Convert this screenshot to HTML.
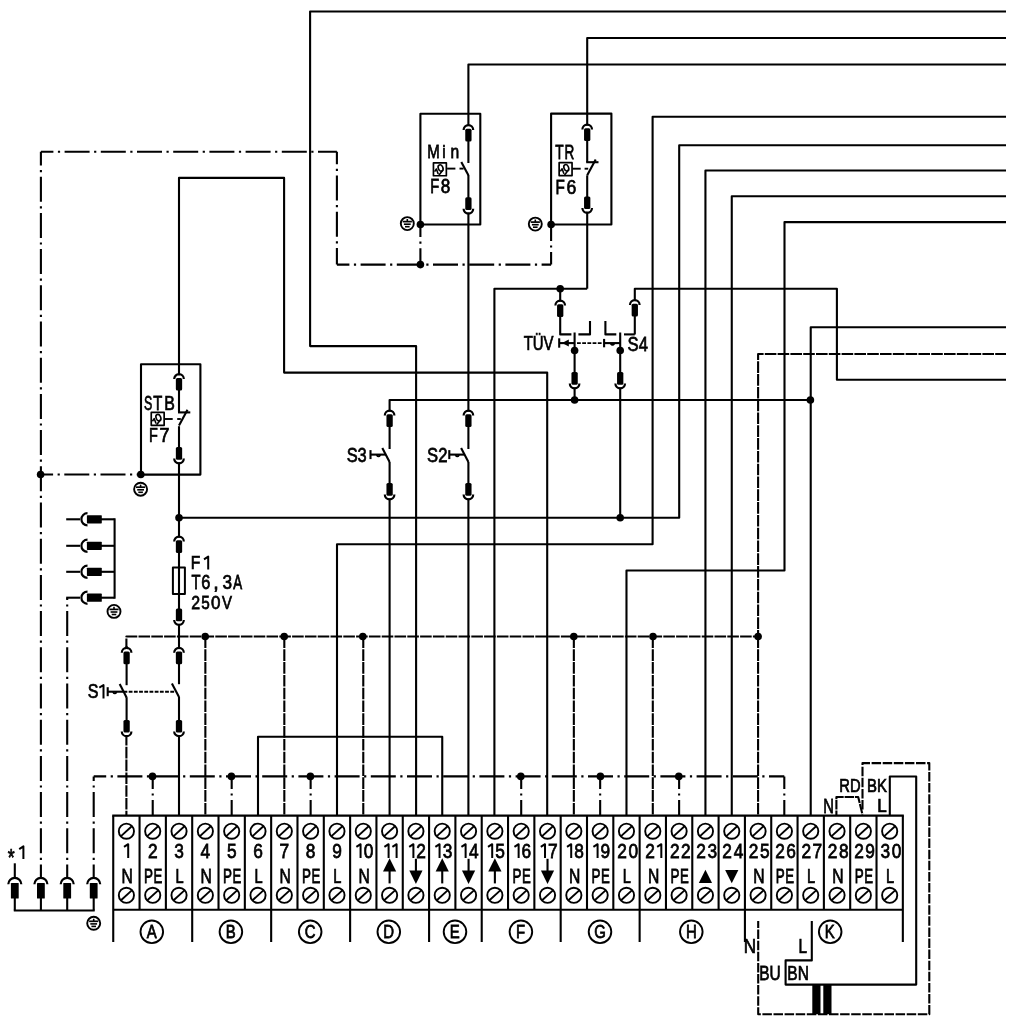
<!DOCTYPE html>
<html><head><meta charset="utf-8"><style>
html,body{margin:0;padding:0;background:#fff;width:1012px;height:1021px;overflow:hidden}
svg{display:block;will-change:transform}
path,circle,rect,ellipse{fill:none;stroke:#000;stroke-linejoin:round}
.f{fill:#000;stroke:none}
.w{fill:#fff;stroke:none}
text{fill:#000;stroke:#000;stroke-width:0.75px;font-family:"Liberation Sans",sans-serif}
</style></head><body>
<svg width="1012" height="1021" viewBox="0 0 1012 1021">
<path d="M112.24 815.6 L903.84 815.6" stroke-width="2.1"/>
<path d="M113.24 909.8 L902.84 909.8" stroke-width="2.1"/>
<path d="M113.24 815.6 L113.24 942" stroke-width="2.1"/>
<path d="M902.84 815.6 L902.84 942" stroke-width="2.1"/>
<path d="M139.56 815.6 L139.56 909.8" stroke-width="2.1"/>
<path d="M165.88 815.6 L165.88 909.8" stroke-width="2.1"/>
<path d="M192.2 815.6 L192.2 942" stroke-width="2.1"/>
<path d="M218.52 815.6 L218.52 909.8" stroke-width="2.1"/>
<path d="M244.84 815.6 L244.84 909.8" stroke-width="2.1"/>
<path d="M271.16 815.6 L271.16 942" stroke-width="2.1"/>
<path d="M297.48 815.6 L297.48 909.8" stroke-width="2.1"/>
<path d="M323.8 815.6 L323.8 909.8" stroke-width="2.1"/>
<path d="M350.12 815.6 L350.12 942" stroke-width="2.1"/>
<path d="M376.44 815.6 L376.44 909.8" stroke-width="2.1"/>
<path d="M402.76 815.6 L402.76 909.8" stroke-width="2.1"/>
<path d="M429.08 815.6 L429.08 942" stroke-width="2.1"/>
<path d="M455.4 815.6 L455.4 909.8" stroke-width="2.1"/>
<path d="M481.72 815.6 L481.72 942" stroke-width="2.1"/>
<path d="M508.04 815.6 L508.04 909.8" stroke-width="2.1"/>
<path d="M534.36 815.6 L534.36 909.8" stroke-width="2.1"/>
<path d="M560.68 815.6 L560.68 942" stroke-width="2.1"/>
<path d="M587 815.6 L587 909.8" stroke-width="2.1"/>
<path d="M613.32 815.6 L613.32 909.8" stroke-width="2.1"/>
<path d="M639.64 815.6 L639.64 942" stroke-width="2.1"/>
<path d="M665.96 815.6 L665.96 909.8" stroke-width="2.1"/>
<path d="M692.28 815.6 L692.28 909.8" stroke-width="2.1"/>
<path d="M718.6 815.6 L718.6 909.8" stroke-width="2.1"/>
<path d="M744.92 815.6 L744.92 942" stroke-width="2.1"/>
<path d="M771.24 815.6 L771.24 909.8" stroke-width="2.1"/>
<path d="M797.56 815.6 L797.56 909.8" stroke-width="2.1"/>
<path d="M823.88 815.6 L823.88 909.8" stroke-width="2.1"/>
<path d="M850.2 815.6 L850.2 909.8" stroke-width="2.1"/>
<path d="M876.52 815.6 L876.52 909.8" stroke-width="2.1"/>
<circle cx="126.4" cy="831.2" r="7.6" stroke-width="1.9"/>
<path d="M121 836.1 L131.8 826.3" stroke-width="1.9"/>
<circle cx="126.4" cy="895.3" r="7.6" stroke-width="1.9"/>
<path d="M121 900.2 L131.8 890.4" stroke-width="1.9"/>
<path d="M124 846.9 L128.2 844.2 L128.2 857.9" stroke-width="2" stroke-linejoin="round"/>
<text transform="translate(121.54 882.62) scale(0.8073 1)" style="font-size:19.4px">N</text>
<circle cx="152.72" cy="831.2" r="7.6" stroke-width="1.9"/>
<path d="M147.32 836.1 L158.12 826.3" stroke-width="1.9"/>
<circle cx="152.72" cy="895.3" r="7.6" stroke-width="1.9"/>
<path d="M147.32 900.2 L158.12 890.4" stroke-width="1.9"/>
<text transform="translate(147.91 857.52) scale(0.8600 1)" style="font-size:20.13px">2</text>
<text transform="translate(144.09 882.62) scale(0.6923 1)" style="font-size:19.4px">P</text>
<text transform="translate(153.61 882.62) scale(0.6798 1)" style="font-size:19.4px">E</text>
<circle cx="179.04" cy="831.2" r="7.6" stroke-width="1.9"/>
<path d="M173.64 836.1 L184.44 826.3" stroke-width="1.9"/>
<circle cx="179.04" cy="895.3" r="7.6" stroke-width="1.9"/>
<path d="M173.64 900.2 L184.44 890.4" stroke-width="1.9"/>
<text transform="translate(174.28 857.52) scale(0.8600 1)" style="font-size:20.13px">3</text>
<text transform="translate(175.42 882.62) scale(0.7539 1)" style="font-size:19.4px">L</text>
<circle cx="205.36" cy="831.2" r="7.6" stroke-width="1.9"/>
<path d="M199.96 836.1 L210.76 826.3" stroke-width="1.9"/>
<circle cx="205.36" cy="895.3" r="7.6" stroke-width="1.9"/>
<path d="M199.96 900.2 L210.76 890.4" stroke-width="1.9"/>
<text transform="translate(200.6 857.52) scale(0.8600 1)" style="font-size:20.13px">4</text>
<text transform="translate(200.5 882.62) scale(0.8073 1)" style="font-size:19.4px">N</text>
<circle cx="231.68" cy="831.2" r="7.6" stroke-width="1.9"/>
<path d="M226.28 836.1 L237.08 826.3" stroke-width="1.9"/>
<circle cx="231.68" cy="895.3" r="7.6" stroke-width="1.9"/>
<path d="M226.28 900.2 L237.08 890.4" stroke-width="1.9"/>
<text transform="translate(226.88 857.52) scale(0.8600 1)" style="font-size:20.13px">5</text>
<text transform="translate(223.05 882.62) scale(0.6923 1)" style="font-size:19.4px">P</text>
<text transform="translate(232.57 882.62) scale(0.6798 1)" style="font-size:19.4px">E</text>
<circle cx="258" cy="831.2" r="7.6" stroke-width="1.9"/>
<path d="M252.6 836.1 L263.4 826.3" stroke-width="1.9"/>
<circle cx="258" cy="895.3" r="7.6" stroke-width="1.9"/>
<path d="M252.6 900.2 L263.4 890.4" stroke-width="1.9"/>
<text transform="translate(253.13 857.52) scale(0.8600 1)" style="font-size:20.13px">6</text>
<text transform="translate(254.38 882.62) scale(0.7539 1)" style="font-size:19.4px">L</text>
<circle cx="284.32" cy="831.2" r="7.6" stroke-width="1.9"/>
<path d="M278.92 836.1 L289.72 826.3" stroke-width="1.9"/>
<circle cx="284.32" cy="895.3" r="7.6" stroke-width="1.9"/>
<path d="M278.92 900.2 L289.72 890.4" stroke-width="1.9"/>
<text transform="translate(279.5 857.52) scale(0.8600 1)" style="font-size:20.13px">7</text>
<text transform="translate(279.46 882.62) scale(0.8073 1)" style="font-size:19.4px">N</text>
<circle cx="310.64" cy="831.2" r="7.6" stroke-width="1.9"/>
<path d="M305.24 836.1 L316.04 826.3" stroke-width="1.9"/>
<circle cx="310.64" cy="895.3" r="7.6" stroke-width="1.9"/>
<path d="M305.24 900.2 L316.04 890.4" stroke-width="1.9"/>
<text transform="translate(305.83 857.52) scale(0.8600 1)" style="font-size:20.13px">8</text>
<text transform="translate(302.01 882.62) scale(0.6923 1)" style="font-size:19.4px">P</text>
<text transform="translate(311.53 882.62) scale(0.6798 1)" style="font-size:19.4px">E</text>
<circle cx="336.96" cy="831.2" r="7.6" stroke-width="1.9"/>
<path d="M331.56 836.1 L342.36 826.3" stroke-width="1.9"/>
<circle cx="336.96" cy="895.3" r="7.6" stroke-width="1.9"/>
<path d="M331.56 900.2 L342.36 890.4" stroke-width="1.9"/>
<text transform="translate(332.15 857.52) scale(0.8600 1)" style="font-size:20.13px">9</text>
<text transform="translate(333.34 882.62) scale(0.7539 1)" style="font-size:19.4px">L</text>
<circle cx="363.28" cy="831.2" r="7.6" stroke-width="1.9"/>
<path d="M357.88 836.1 L368.68 826.3" stroke-width="1.9"/>
<circle cx="363.28" cy="895.3" r="7.6" stroke-width="1.9"/>
<path d="M357.88 900.2 L368.68 890.4" stroke-width="1.9"/>
<path d="M356.37 846.9 L360.57 844.2 L360.57 857.9" stroke-width="2" stroke-linejoin="round"/>
<text transform="translate(363.67 857.52) scale(0.8600 1)" style="font-size:20.13px">0</text>
<text transform="translate(358.42 882.62) scale(0.8073 1)" style="font-size:19.4px">N</text>
<circle cx="389.6" cy="831.2" r="7.6" stroke-width="1.9"/>
<path d="M384.2 836.1 L395 826.3" stroke-width="1.9"/>
<circle cx="389.6" cy="895.3" r="7.6" stroke-width="1.9"/>
<path d="M384.2 900.2 L395 890.4" stroke-width="1.9"/>
<path d="M384.4 846.9 L388.6 844.2 L388.6 857.9" stroke-width="2" stroke-linejoin="round"/>
<path d="M392.4 846.9 L396.6 844.2 L396.6 857.9" stroke-width="2" stroke-linejoin="round"/>
<path d="M389.6 858.3 L383 871.6 L396.2 871.6 Z" class="f"/>
<path d="M389.6 871 L389.6 883.4" stroke-width="2.1"/>
<circle cx="415.92" cy="831.2" r="7.6" stroke-width="1.9"/>
<path d="M410.52 836.1 L421.32 826.3" stroke-width="1.9"/>
<circle cx="415.92" cy="895.3" r="7.6" stroke-width="1.9"/>
<path d="M410.52 900.2 L421.32 890.4" stroke-width="1.9"/>
<path d="M409.2 846.9 L413.4 844.2 L413.4 857.9" stroke-width="2" stroke-linejoin="round"/>
<text transform="translate(416.31 857.52) scale(0.8600 1)" style="font-size:20.13px">2</text>
<path d="M415.92 884 L409.32 870.4 L422.52 870.4 Z" class="f"/>
<path d="M415.92 858.8 L415.92 871" stroke-width="2.1"/>
<circle cx="442.24" cy="831.2" r="7.6" stroke-width="1.9"/>
<path d="M436.84 836.1 L447.64 826.3" stroke-width="1.9"/>
<circle cx="442.24" cy="895.3" r="7.6" stroke-width="1.9"/>
<path d="M436.84 900.2 L447.64 890.4" stroke-width="1.9"/>
<path d="M435.36 846.9 L439.56 844.2 L439.56 857.9" stroke-width="2" stroke-linejoin="round"/>
<text transform="translate(442.68 857.52) scale(0.8600 1)" style="font-size:20.13px">3</text>
<path d="M442.24 858.3 L435.64 871.6 L448.84 871.6 Z" class="f"/>
<path d="M442.24 871 L442.24 883.4" stroke-width="2.1"/>
<circle cx="468.56" cy="831.2" r="7.6" stroke-width="1.9"/>
<path d="M463.16 836.1 L473.96 826.3" stroke-width="1.9"/>
<circle cx="468.56" cy="895.3" r="7.6" stroke-width="1.9"/>
<path d="M463.16 900.2 L473.96 890.4" stroke-width="1.9"/>
<path d="M461.42 846.9 L465.62 844.2 L465.62 857.9" stroke-width="2" stroke-linejoin="round"/>
<text transform="translate(469 857.52) scale(0.8600 1)" style="font-size:20.13px">4</text>
<path d="M468.56 884 L461.96 870.4 L475.16 870.4 Z" class="f"/>
<path d="M468.56 858.8 L468.56 871" stroke-width="2.1"/>
<circle cx="494.88" cy="831.2" r="7.6" stroke-width="1.9"/>
<path d="M489.48 836.1 L500.28 826.3" stroke-width="1.9"/>
<circle cx="494.88" cy="895.3" r="7.6" stroke-width="1.9"/>
<path d="M489.48 900.2 L500.28 890.4" stroke-width="1.9"/>
<path d="M488 846.9 L492.2 844.2 L492.2 857.9" stroke-width="2" stroke-linejoin="round"/>
<text transform="translate(495.28 857.52) scale(0.8600 1)" style="font-size:20.13px">5</text>
<path d="M494.88 858.3 L488.28 871.6 L501.48 871.6 Z" class="f"/>
<path d="M494.88 871 L494.88 883.4" stroke-width="2.1"/>
<circle cx="521.2" cy="831.2" r="7.6" stroke-width="1.9"/>
<path d="M515.8 836.1 L526.6 826.3" stroke-width="1.9"/>
<circle cx="521.2" cy="895.3" r="7.6" stroke-width="1.9"/>
<path d="M515.8 900.2 L526.6 890.4" stroke-width="1.9"/>
<path d="M514.43 846.9 L518.63 844.2 L518.63 857.9" stroke-width="2" stroke-linejoin="round"/>
<text transform="translate(521.53 857.52) scale(0.8600 1)" style="font-size:20.13px">6</text>
<text transform="translate(512.57 882.62) scale(0.6923 1)" style="font-size:19.4px">P</text>
<text transform="translate(522.09 882.62) scale(0.6798 1)" style="font-size:19.4px">E</text>
<circle cx="547.52" cy="831.2" r="7.6" stroke-width="1.9"/>
<path d="M542.12 836.1 L552.92 826.3" stroke-width="1.9"/>
<circle cx="547.52" cy="895.3" r="7.6" stroke-width="1.9"/>
<path d="M542.12 900.2 L552.92 890.4" stroke-width="1.9"/>
<path d="M540.81 846.9 L545.01 844.2 L545.01 857.9" stroke-width="2" stroke-linejoin="round"/>
<text transform="translate(547.9 857.52) scale(0.8600 1)" style="font-size:20.13px">7</text>
<path d="M547.52 884 L540.92 870.4 L554.12 870.4 Z" class="f"/>
<path d="M547.52 858.8 L547.52 871" stroke-width="2.1"/>
<circle cx="573.84" cy="831.2" r="7.6" stroke-width="1.9"/>
<path d="M568.44 836.1 L579.24 826.3" stroke-width="1.9"/>
<circle cx="573.84" cy="895.3" r="7.6" stroke-width="1.9"/>
<path d="M568.44 900.2 L579.24 890.4" stroke-width="1.9"/>
<path d="M567 846.9 L571.2 844.2 L571.2 857.9" stroke-width="2" stroke-linejoin="round"/>
<text transform="translate(574.23 857.52) scale(0.8600 1)" style="font-size:20.13px">8</text>
<text transform="translate(568.98 882.62) scale(0.8073 1)" style="font-size:19.4px">N</text>
<circle cx="600.16" cy="831.2" r="7.6" stroke-width="1.9"/>
<path d="M594.76 836.1 L605.56 826.3" stroke-width="1.9"/>
<circle cx="600.16" cy="895.3" r="7.6" stroke-width="1.9"/>
<path d="M594.76 900.2 L605.56 890.4" stroke-width="1.9"/>
<path d="M593.39 846.9 L597.59 844.2 L597.59 857.9" stroke-width="2" stroke-linejoin="round"/>
<text transform="translate(600.55 857.52) scale(0.8600 1)" style="font-size:20.13px">9</text>
<text transform="translate(591.53 882.62) scale(0.6923 1)" style="font-size:19.4px">P</text>
<text transform="translate(601.05 882.62) scale(0.6798 1)" style="font-size:19.4px">E</text>
<circle cx="626.48" cy="831.2" r="7.6" stroke-width="1.9"/>
<path d="M621.08 836.1 L631.88 826.3" stroke-width="1.9"/>
<circle cx="626.48" cy="895.3" r="7.6" stroke-width="1.9"/>
<path d="M621.08 900.2 L631.88 890.4" stroke-width="1.9"/>
<text transform="translate(617.15 857.52) scale(0.8600 1)" style="font-size:20.13px">2</text>
<text transform="translate(628.38 857.52) scale(0.8600 1)" style="font-size:20.13px">0</text>
<text transform="translate(622.85 882.62) scale(0.7539 1)" style="font-size:19.4px">L</text>
<circle cx="652.8" cy="831.2" r="7.6" stroke-width="1.9"/>
<path d="M647.4 836.1 L658.2 826.3" stroke-width="1.9"/>
<circle cx="652.8" cy="895.3" r="7.6" stroke-width="1.9"/>
<path d="M647.4 900.2 L658.2 890.4" stroke-width="1.9"/>
<text transform="translate(645.19 857.52) scale(0.8600 1)" style="font-size:20.13px">2</text>
<path d="M657.12 846.9 L661.32 844.2 L661.32 857.9" stroke-width="2" stroke-linejoin="round"/>
<text transform="translate(647.94 882.62) scale(0.8073 1)" style="font-size:19.4px">N</text>
<circle cx="679.12" cy="831.2" r="7.6" stroke-width="1.9"/>
<path d="M673.72 836.1 L684.52 826.3" stroke-width="1.9"/>
<circle cx="679.12" cy="895.3" r="7.6" stroke-width="1.9"/>
<path d="M673.72 900.2 L684.52 890.4" stroke-width="1.9"/>
<text transform="translate(669.99 857.52) scale(0.8600 1)" style="font-size:20.13px">2</text>
<text transform="translate(681.02 857.52) scale(0.8600 1)" style="font-size:20.13px">2</text>
<text transform="translate(670.49 882.62) scale(0.6923 1)" style="font-size:19.4px">P</text>
<text transform="translate(680.01 882.62) scale(0.6798 1)" style="font-size:19.4px">E</text>
<circle cx="705.44" cy="831.2" r="7.6" stroke-width="1.9"/>
<path d="M700.04 836.1 L710.84 826.3" stroke-width="1.9"/>
<circle cx="705.44" cy="895.3" r="7.6" stroke-width="1.9"/>
<path d="M700.04 900.2 L710.84 890.4" stroke-width="1.9"/>
<text transform="translate(696.15 857.52) scale(0.8600 1)" style="font-size:20.13px">2</text>
<text transform="translate(707.4 857.52) scale(0.8600 1)" style="font-size:20.13px">3</text>
<path d="M705.44 869.8 L698.84 883 L712.04 883 Z" class="f"/>
<circle cx="731.76" cy="831.2" r="7.6" stroke-width="1.9"/>
<path d="M726.36 836.1 L737.16 826.3" stroke-width="1.9"/>
<circle cx="731.76" cy="895.3" r="7.6" stroke-width="1.9"/>
<path d="M726.36 900.2 L737.16 890.4" stroke-width="1.9"/>
<text transform="translate(722.21 857.52) scale(0.8600 1)" style="font-size:20.13px">2</text>
<text transform="translate(733.72 857.52) scale(0.8600 1)" style="font-size:20.13px">4</text>
<path d="M731.76 883.2 L725.16 870 L738.36 870 Z" class="f"/>
<circle cx="758.08" cy="831.2" r="7.6" stroke-width="1.9"/>
<path d="M752.68 836.1 L763.48 826.3" stroke-width="1.9"/>
<circle cx="758.08" cy="895.3" r="7.6" stroke-width="1.9"/>
<path d="M752.68 900.2 L763.48 890.4" stroke-width="1.9"/>
<text transform="translate(748.79 857.52) scale(0.8600 1)" style="font-size:20.13px">2</text>
<text transform="translate(760 857.52) scale(0.8600 1)" style="font-size:20.13px">5</text>
<text transform="translate(753.22 882.62) scale(0.8073 1)" style="font-size:19.4px">N</text>
<circle cx="784.4" cy="831.2" r="7.6" stroke-width="1.9"/>
<path d="M779 836.1 L789.8 826.3" stroke-width="1.9"/>
<circle cx="784.4" cy="895.3" r="7.6" stroke-width="1.9"/>
<path d="M779 900.2 L789.8 890.4" stroke-width="1.9"/>
<text transform="translate(775.22 857.52) scale(0.8600 1)" style="font-size:20.13px">2</text>
<text transform="translate(786.25 857.52) scale(0.8600 1)" style="font-size:20.13px">6</text>
<text transform="translate(775.77 882.62) scale(0.6923 1)" style="font-size:19.4px">P</text>
<text transform="translate(785.29 882.62) scale(0.6798 1)" style="font-size:19.4px">E</text>
<circle cx="810.72" cy="831.2" r="7.6" stroke-width="1.9"/>
<path d="M805.32 836.1 L816.12 826.3" stroke-width="1.9"/>
<circle cx="810.72" cy="895.3" r="7.6" stroke-width="1.9"/>
<path d="M805.32 900.2 L816.12 890.4" stroke-width="1.9"/>
<text transform="translate(801.6 857.52) scale(0.8600 1)" style="font-size:20.13px">2</text>
<text transform="translate(812.62 857.52) scale(0.8600 1)" style="font-size:20.13px">7</text>
<text transform="translate(807.09 882.62) scale(0.7539 1)" style="font-size:19.4px">L</text>
<circle cx="837.04" cy="831.2" r="7.6" stroke-width="1.9"/>
<path d="M831.64 836.1 L842.44 826.3" stroke-width="1.9"/>
<circle cx="837.04" cy="895.3" r="7.6" stroke-width="1.9"/>
<path d="M831.64 900.2 L842.44 890.4" stroke-width="1.9"/>
<text transform="translate(827.79 857.52) scale(0.8600 1)" style="font-size:20.13px">2</text>
<text transform="translate(838.94 857.52) scale(0.8600 1)" style="font-size:20.13px">8</text>
<text transform="translate(832.18 882.62) scale(0.8073 1)" style="font-size:19.4px">N</text>
<circle cx="863.36" cy="831.2" r="7.6" stroke-width="1.9"/>
<path d="M857.96 836.1 L868.76 826.3" stroke-width="1.9"/>
<circle cx="863.36" cy="895.3" r="7.6" stroke-width="1.9"/>
<path d="M857.96 900.2 L868.76 890.4" stroke-width="1.9"/>
<text transform="translate(854.17 857.52) scale(0.8600 1)" style="font-size:20.13px">2</text>
<text transform="translate(865.27 857.52) scale(0.8600 1)" style="font-size:20.13px">9</text>
<text transform="translate(854.73 882.62) scale(0.6923 1)" style="font-size:19.4px">P</text>
<text transform="translate(864.25 882.62) scale(0.6798 1)" style="font-size:19.4px">E</text>
<circle cx="889.68" cy="831.2" r="7.6" stroke-width="1.9"/>
<path d="M884.28 836.1 L895.08 826.3" stroke-width="1.9"/>
<circle cx="889.68" cy="895.3" r="7.6" stroke-width="1.9"/>
<path d="M884.28 900.2 L895.08 890.4" stroke-width="1.9"/>
<text transform="translate(880.4 857.52) scale(0.8600 1)" style="font-size:20.13px">3</text>
<text transform="translate(891.74 857.52) scale(0.8600 1)" style="font-size:20.13px">0</text>
<text transform="translate(886.05 882.62) scale(0.7539 1)" style="font-size:19.4px">L</text>
<circle cx="151.8" cy="931.8" r="11.3" stroke-width="1.9"/>
<text transform="translate(146.82 938.23) scale(0.8000 1)" style="font-size:18.68px;letter-spacing:1.600px">A</text>
<circle cx="230.9" cy="931.8" r="11.3" stroke-width="1.9"/>
<text transform="translate(225.7 938.23) scale(0.8000 1)" style="font-size:18.68px;letter-spacing:1.600px">B</text>
<circle cx="310.2" cy="931.8" r="11.3" stroke-width="1.9"/>
<text transform="translate(304.71 938.23) scale(0.8000 1)" style="font-size:18.68px;letter-spacing:1.600px">C</text>
<circle cx="388.8" cy="931.8" r="11.3" stroke-width="1.9"/>
<text transform="translate(383.15 938.23) scale(0.8000 1)" style="font-size:18.68px;letter-spacing:1.600px">D</text>
<circle cx="455" cy="931.8" r="11.3" stroke-width="1.9"/>
<text transform="translate(449.73 938.23) scale(0.8000 1)" style="font-size:18.68px;letter-spacing:1.600px">E</text>
<circle cx="520.9" cy="931.8" r="11.3" stroke-width="1.9"/>
<text transform="translate(516.02 938.23) scale(0.8000 1)" style="font-size:18.68px;letter-spacing:1.600px">F</text>
<circle cx="600" cy="931.8" r="11.3" stroke-width="1.9"/>
<text transform="translate(594.37 938.23) scale(0.8000 1)" style="font-size:18.68px;letter-spacing:1.600px">G</text>
<circle cx="691.3" cy="931.8" r="11.3" stroke-width="1.9"/>
<text transform="translate(685.9 938.23) scale(0.8000 1)" style="font-size:18.68px;letter-spacing:1.600px">H</text>
<circle cx="830.2" cy="931.8" r="11.3" stroke-width="1.9"/>
<text transform="translate(824.69 938.23) scale(0.8000 1)" style="font-size:18.68px;letter-spacing:1.600px">K</text>
<path d="M811.8 921 L811.8 960.4 L785.6 960.4 L785.6 984.6 L916.2 984.6 L916.2 776.5 L889.8 776.5 L889.8 815.6" stroke-width="2.1"/>
<path d="M836.4 815.6 L836.4 797 L858.2 797 L862.5 814.6" stroke-width="2.1" stroke-dasharray="9.5 0.9" stroke-dashoffset="-6"/>
<path d="M862.5 809.5 L862.5 763.1 L929.3 763.1 L929.3 1014.2 L758.2 1014.2 L758.2 921" stroke-width="2.1" stroke-dasharray="9.5 1.6"/>
<rect x="812.3" y="984.6" width="8.2" height="29.6" class="f"/>
<rect x="823.3" y="984.6" width="8.2" height="29.6" class="f"/>
<text transform="translate(839.27 791.83) scale(0.7761 1)" style="font-size:18.97px;letter-spacing:0.000px">RD</text>
<text transform="translate(866.95 791.83) scale(0.7882 1)" style="font-size:18.97px;letter-spacing:0.000px">BK</text>
<text transform="translate(823.36 812.62) scale(0.7337 1)" style="font-size:20.13px;letter-spacing:0.000px">N</text>
<text transform="translate(877.17 811.62) scale(0.8891 1)" style="font-size:19.26px;letter-spacing:0.000px">L</text>
<text transform="translate(759.3 979.83) scale(0.7694 1)" style="font-size:20.13px;letter-spacing:0.000px">BU</text>
<text transform="translate(787.3 979.83) scale(0.7721 1)" style="font-size:20.13px;letter-spacing:0.000px">BN</text>
<text transform="translate(798.42 953.33) scale(0.7831 1)" style="font-size:19.55px;letter-spacing:0.000px">L</text>
<text transform="translate(743.67 953.33) scale(0.8745 1)" style="font-size:19.55px;letter-spacing:0.000px">N</text>
<path d="M14.8 885 L14.8 910.5" stroke-width="2.1"/>
<path d="M40.9 885 L40.9 910.5" stroke-width="2.1"/>
<path d="M67.2 885 L67.2 910.5" stroke-width="2.1"/>
<path d="M93.7 885 L93.7 910.5" stroke-width="2.1"/>
<path d="M13.8 910.5 L94.7 910.5" stroke-width="2.1"/>
<path d="M14.8 863.3 L14.8 877" stroke-width="2.1"/>
<circle cx="93.7" cy="923.3" r="6.5" stroke-width="1.9"/>
<path d="M93.7 918.7 L93.7 921.1" stroke-width="1.6"/>
<path d="M89.1 921.3 L98.3 921.3" stroke-width="1.7"/>
<path d="M90.3 923.9 L97.1 923.9" stroke-width="1.6"/>
<path d="M91.4 926.4 L96 926.4" stroke-width="1.6"/>
<text transform="translate(7.79 865.54) scale(0.7560 1)" style="font-size:23.5px;letter-spacing:0.000px">*</text>
<path d="M19.2 849.1 L23.4 846.4 L23.4 859" stroke-width="2" stroke-linejoin="round"/>
<path d="M40.9 877 L40.9 151.8" stroke-width="2.1" stroke-dasharray="25 4.5 2.2 4.5" stroke-dashoffset="12.5"/>
<path d="M40.9 151.8 L336.9 151.8" stroke-width="2.1" stroke-dasharray="25 4.5 2.2 4.5" stroke-dashoffset="12.5"/>
<path d="M336.9 151.8 L336.9 264.6" stroke-width="2.1" stroke-dasharray="25 4.5 2.2 4.5" stroke-dashoffset="12.5"/>
<path d="M336.9 264.6 L551.1 264.6" stroke-width="2.1" stroke-dasharray="25 4.5 2.2 4.5" stroke-dashoffset="12.5"/>
<path d="M551.1 264.6 L551.1 224.5" stroke-width="2.1" stroke-dasharray="25 4.5 2.2 4.5" stroke-dashoffset="12.5"/>
<path d="M420.4 224.5 L420.4 264.6" stroke-width="2.1" stroke-dasharray="25 4.5 2.2 4.5" stroke-dashoffset="12.5"/>
<circle cx="420.4" cy="264.6" r="3.8" class="f"/>
<path d="M67.2 877 L67.2 597.7" stroke-width="2.1" stroke-dasharray="25 4.5 2.2 4.5" stroke-dashoffset="12.5"/>
<path d="M93.7 877 L93.7 776.4" stroke-width="2.1" stroke-dasharray="25 4.5 2.2 4.5" stroke-dashoffset="12.5"/>
<path d="M93.7 776.4 L784.3 776.4" stroke-width="2.1" stroke-dasharray="25 4.5 2.2 4.5" stroke-dashoffset="12.5"/>
<path d="M784.3 776.4 L784.3 815.6" stroke-width="2.1" stroke-dasharray="25 4.5 2.2 4.5" stroke-dashoffset="12.5"/>
<circle cx="152.5" cy="776.4" r="3.8" class="f"/>
<circle cx="231.4" cy="776.4" r="3.8" class="f"/>
<circle cx="310.4" cy="776.4" r="3.8" class="f"/>
<circle cx="520.8" cy="776.4" r="3.8" class="f"/>
<circle cx="600.4" cy="776.4" r="3.8" class="f"/>
<circle cx="678.8" cy="776.4" r="3.8" class="f"/>
<path d="M152.72 776.4 L152.72 815.6" stroke-width="2.1" stroke-dasharray="25 4.5 2.2 4.5" stroke-dashoffset="12.5"/>
<path d="M231.68 776.4 L231.68 815.6" stroke-width="2.1" stroke-dasharray="25 4.5 2.2 4.5" stroke-dashoffset="12.5"/>
<path d="M310.64 776.4 L310.64 815.6" stroke-width="2.1" stroke-dasharray="25 4.5 2.2 4.5" stroke-dashoffset="12.5"/>
<path d="M521.2 776.4 L521.2 815.6" stroke-width="2.1" stroke-dasharray="25 4.5 2.2 4.5" stroke-dashoffset="12.5"/>
<path d="M600.16 776.4 L600.16 815.6" stroke-width="2.1" stroke-dasharray="25 4.5 2.2 4.5" stroke-dashoffset="12.5"/>
<path d="M679.12 776.4 L679.12 815.6" stroke-width="2.1" stroke-dasharray="25 4.5 2.2 4.5" stroke-dashoffset="12.5"/>
<path d="M40.6 474.5 L140.8 474.5" stroke-width="2.1" stroke-dasharray="25 4.5 2.2 4.5" stroke-dashoffset="12.5"/>
<circle cx="40.6" cy="474.5" r="3.8" class="f"/>
<path d="M126.4 650 L126.4 636.5 L758.1 636.5 L758.1 354 L1006 354" stroke-width="2.1" stroke-dasharray="11.6 1.2"/>
<circle cx="205.2" cy="636.5" r="3.8" class="f"/>
<circle cx="284.2" cy="636.5" r="3.8" class="f"/>
<circle cx="362.8" cy="636.5" r="3.8" class="f"/>
<circle cx="573.8" cy="636.5" r="3.8" class="f"/>
<circle cx="653" cy="636.5" r="3.8" class="f"/>
<circle cx="758.1" cy="636.5" r="3.8" class="f"/>
<path d="M205.36 636.5 L205.36 815.6" stroke-width="2.1" stroke-dasharray="11.6 1.2"/>
<path d="M284.32 636.5 L284.32 815.6" stroke-width="2.1" stroke-dasharray="11.6 1.2"/>
<path d="M363.28 636.5 L363.28 815.6" stroke-width="2.1" stroke-dasharray="11.6 1.2"/>
<path d="M573.84 636.5 L573.84 815.6" stroke-width="2.1" stroke-dasharray="11.6 1.2"/>
<path d="M652.8 636.5 L652.8 815.6" stroke-width="2.1" stroke-dasharray="11.6 1.2"/>
<path d="M758.08 636.5 L758.08 815.6" stroke-width="2.1" stroke-dasharray="11.6 1.2"/>
<path d="M126.4 734 L126.4 815.6" stroke-width="2.1" stroke-dasharray="11.6 1.2"/>
<path d="M100 519.3 L114.6 519.3" stroke-width="2.1"/>
<path d="M66.2 519.3 L80 519.3" stroke-width="2.1"/>
<path d="M100 545.8 L114.6 545.8" stroke-width="2.1"/>
<path d="M66.2 545.8 L80 545.8" stroke-width="2.1"/>
<path d="M100 571.8 L114.6 571.8" stroke-width="2.1"/>
<path d="M66.2 571.8 L80 571.8" stroke-width="2.1"/>
<path d="M100 597.7 L114.6 597.7" stroke-width="2.1"/>
<path d="M66.2 597.7 L80 597.7" stroke-width="2.1"/>
<path d="M114.6 518.3 L114.6 598.7" stroke-width="2.1"/>
<circle cx="114" cy="611.4" r="6.5" stroke-width="1.9"/>
<path d="M114 606.8 L114 609.2" stroke-width="1.6"/>
<path d="M109.4 609.4 L118.6 609.4" stroke-width="1.7"/>
<path d="M110.6 612 L117.4 612" stroke-width="1.6"/>
<path d="M111.7 614.5 L116.3 614.5" stroke-width="1.6"/>
<rect x="141" y="364.2" width="59.4" height="110.4" stroke-width="2.1"/>
<path d="M179 412.4 L179 177.9 L284.1 177.9 L284.1 372.6 L547.2 372.6 L547.2 815.6" stroke-width="2.1"/>
<path d="M178 412.4 L190.3 412.4" stroke-width="2.1"/>
<path d="M179 425.4 L187.5 409.7" stroke-width="2.1"/>
<path d="M179 426.2 L179 567" stroke-width="2.1"/>
<circle cx="140.6" cy="489.2" r="6.5" stroke-width="1.9"/>
<path d="M140.6 484.6 L140.6 487" stroke-width="1.6"/>
<path d="M136 487.2 L145.2 487.2" stroke-width="1.7"/>
<path d="M137.2 489.8 L144 489.8" stroke-width="1.6"/>
<path d="M138.3 492.3 L142.9 492.3" stroke-width="1.6"/>
<circle cx="140.8" cy="474.5" r="3.8" class="f"/>
<rect x="151.25" y="412.45" width="12.9" height="12.9" stroke-width="1.7"/>
<ellipse cx="158.4" cy="417.6" rx="2.3" ry="3.3" stroke-width="1.6" transform="rotate(-22 158.4 417.6)"/>
<path d="M160.8 419.6 L156.6 424.8 M152.4 421.2 L154.2 418.6 L156 423.6" stroke-width="1.6"/>
<path d="M164.8 419 L172.7 419" stroke-width="1.9"/>
<path d="M177.2 419 L180.8 419" stroke-width="1.9"/>
<text transform="translate(144.11 409.52) scale(0.6125 1)" style="font-size:20.28px">S</text>
<text transform="translate(153.34 409.52) scale(0.7283 1)" style="font-size:20.28px">T</text>
<text transform="translate(164.27 409.52) scale(0.7830 1)" style="font-size:20.28px">B</text>
<text transform="translate(149.09 442.43) scale(0.7217 1)" style="font-size:19.99px">F</text>
<text transform="translate(159.56 442.43) scale(0.8970 1)" style="font-size:19.99px">7</text>
<circle cx="179" cy="517.8" r="3.8" class="f"/>
<path d="M179 517.8 L679.2 517.8 L679.2 145.3 L1006 145.3" stroke-width="2.1"/>
<rect x="172.9" y="567.5" width="12" height="26.5" stroke-width="2"/>
<text transform="translate(190.69 569.12) scale(0.8251 1)" style="font-size:18.97px">F</text>
<path d="M204 559.3 L208.2 556.6 L208.2 569.5" stroke-width="2" stroke-linejoin="round"/>
<text transform="translate(191.44 588.92) scale(0.7498 1)" style="font-size:19.7px">T</text>
<text transform="translate(201.14 588.92) scale(0.8308 1)" style="font-size:19.7px">6</text>
<text transform="translate(213.21 588.92) scale(1.0000 1)" style="font-size:19.7px">,</text>
<text transform="translate(222.42 588.92) scale(0.8728 1)" style="font-size:19.7px">3</text>
<text transform="translate(233.25 588.92) scale(0.6777 1)" style="font-size:19.7px">A</text>
<text transform="translate(191.17 608.73) scale(0.8326 1)" style="font-size:19.11px">2</text>
<text transform="translate(201.26 608.73) scale(0.8000 1)" style="font-size:19.11px">5</text>
<text transform="translate(211.11 608.73) scale(0.8920 1)" style="font-size:19.11px">0</text>
<text transform="translate(221.91 608.73) scale(0.7829 1)" style="font-size:19.11px">V</text>
<path d="M126.6 646 L126.6 685.2" stroke-width="2.1"/>
<path d="M179 567 L179 684.2" stroke-width="2.1"/>
<path d="M119.7 684.1 L126.6 697.4" stroke-width="2.1"/>
<path d="M171.9 683.6 L179 697" stroke-width="2.1"/>
<path d="M126.6 697.2 L126.6 734" stroke-width="2.1"/>
<path d="M179 696.6 L179 815.6" stroke-width="2.1"/>
<path d="M123.5 691.7 L174.5 691.7" stroke-width="1.9" stroke-dasharray="3.8 1.4"/>
<path d="M107.7 687.2 L107.7 696.2" stroke-width="2.1"/>
<path d="M107.7 691.7 L123 691.7" stroke-width="2.1"/>
<path d="M113 692 q1.8 2.8 3.6 0" stroke-width="1.9"/>
<text transform="translate(87.85 698.12) scale(0.8087 1)" style="font-size:19.84px">S</text>
<path d="M99.3 687.7 L103.5 685 L103.5 698.5" stroke-width="2" stroke-linejoin="round"/>
<path d="M258 815.6 L258 736.8 L442.24 736.8 L442.24 815.6" stroke-width="2.1"/>
<path d="M416.1 815.6 L416.1 346.1 L310.1 346.1 L310.1 11.5 L1006 11.5" stroke-width="2.1"/>
<path d="M1006 64.5 L468.4 64.5 L468.4 163.1" stroke-width="2.1"/>
<path d="M1006 38 L587.2 38 L587.2 162.2" stroke-width="2.1"/>
<path d="M1006 116.7 L652.6 116.7 L652.6 544.3 L337 544.3 L337 815.6" stroke-width="2.1"/>
<path d="M705.44 815.6 L705.44 170.5 L1006 170.5" stroke-width="2.1"/>
<path d="M731.76 815.6 L731.76 196.3 L1006 196.3" stroke-width="2.1"/>
<path d="M626.48 815.6 L626.48 570.5 L784.5 570.5 L784.5 222.1 L1006 222.1" stroke-width="2.1"/>
<path d="M810.72 815.6 L810.72 327.3 L1006 327.3" stroke-width="2.1"/>
<path d="M634.8 334.4 L634.8 288.8 L836.9 288.8 L836.9 379.8 L1006 379.8" stroke-width="2.1"/>
<rect x="420.4" y="113.8" width="59.9" height="110.7" stroke-width="2.1"/>
<path d="M461.3 162 L468.4 175.2" stroke-width="2.1"/>
<path d="M468.4 175 L468.4 449" stroke-width="2.1"/>
<circle cx="407.3" cy="223.6" r="6.5" stroke-width="1.9"/>
<path d="M407.3 219 L407.3 221.4" stroke-width="1.6"/>
<path d="M402.7 221.6 L411.9 221.6" stroke-width="1.7"/>
<path d="M403.9 224.2 L410.7 224.2" stroke-width="1.6"/>
<path d="M405 226.7 L409.6 226.7" stroke-width="1.6"/>
<circle cx="420.4" cy="224.5" r="3.8" class="f"/>
<rect x="433.45" y="162.85" width="12.9" height="12.9" stroke-width="1.7"/>
<ellipse cx="440.6" cy="168" rx="2.3" ry="3.3" stroke-width="1.6" transform="rotate(-22 440.6 168)"/>
<path d="M443 170 L438.8 175.2 M434.6 171.6 L436.4 169 L438.2 174" stroke-width="1.6"/>
<path d="M447.1 168.6 L455.4 168.6" stroke-width="1.9"/>
<path d="M459.5 168.6 L463.6 168.6" stroke-width="1.9"/>
<text transform="translate(427.24 157.82) scale(0.7801 1)" style="font-size:19.26px">M</text>
<text transform="translate(442.35 157.82) scale(0.7975 1)" style="font-size:19.26px">i</text>
<text transform="translate(450.44 157.82) scale(0.8128 1)" style="font-size:19.26px">n</text>
<text transform="translate(430.18 193.32) scale(0.7319 1)" style="font-size:19.99px">F</text>
<text transform="translate(440.83 193.32) scale(0.8584 1)" style="font-size:19.99px">8</text>
<path d="M461.1 448 L468.4 462" stroke-width="2.1"/>
<path d="M468.4 462 L468.4 815.6" stroke-width="2.1"/>
<path d="M449.3 450.1 L449.3 459.1" stroke-width="2.1"/>
<path d="M449.3 454.6 L464.8 454.6" stroke-width="2.1"/>
<path d="M455.5 454.9 q1.8 2.8 3.6 0" stroke-width="1.9"/>
<text transform="translate(427.02 461.62) scale(0.8200 1)" style="font-size:20.28px;letter-spacing:0.127px">S2</text>
<rect x="551.1" y="113.6" width="60.3" height="110.9" stroke-width="2.1"/>
<path d="M586.2 162.2 L598.5 162.2" stroke-width="2.1"/>
<path d="M587.2 175.2 L595.7 159.5" stroke-width="2.1"/>
<path d="M587.2 175.3 L587.2 288.7" stroke-width="2.1"/>
<circle cx="535.3" cy="224.1" r="6.5" stroke-width="1.9"/>
<path d="M535.3 219.5 L535.3 221.9" stroke-width="1.6"/>
<path d="M530.7 222.1 L539.9 222.1" stroke-width="1.7"/>
<path d="M531.9 224.7 L538.7 224.7" stroke-width="1.6"/>
<path d="M533 227.2 L537.6 227.2" stroke-width="1.6"/>
<circle cx="551.1" cy="224.5" r="3.8" class="f"/>
<rect x="559.15" y="162.65" width="12.9" height="12.9" stroke-width="1.7"/>
<ellipse cx="566.3" cy="167.8" rx="2.3" ry="3.3" stroke-width="1.6" transform="rotate(-22 566.3 167.8)"/>
<path d="M568.7 169.8 L564.5 175 M560.3 171.4 L562.1 168.8 L563.9 173.8" stroke-width="1.6"/>
<path d="M572.3 168.7 L580.7 168.7" stroke-width="1.9"/>
<path d="M584.6 168.7 L588.2 168.7" stroke-width="1.9"/>
<text transform="translate(555.17 158.62) scale(0.6760 1)" style="font-size:20.28px">T</text>
<text transform="translate(564.56 158.62) scale(0.6687 1)" style="font-size:20.28px">R</text>
<text transform="translate(555.42 193.62) scale(0.7464 1)" style="font-size:20.42px">F</text>
<text transform="translate(566.48 193.62) scale(0.8649 1)" style="font-size:20.42px">6</text>
<path d="M587.2 288.7 L494.4 288.7 L494.4 815.6" stroke-width="2.1"/>
<circle cx="560.2" cy="288.7" r="3.8" class="f"/>
<path d="M810.4 400 L389.6 400 L389.6 449" stroke-width="2.1"/>
<circle cx="810.4" cy="400" r="3.8" class="f"/>
<path d="M382.3 448 L389.6 462" stroke-width="2.1"/>
<path d="M389.6 462 L389.6 815.6" stroke-width="2.1"/>
<path d="M370.5 450.1 L370.5 459.1" stroke-width="2.1"/>
<path d="M370.5 454.6 L386 454.6" stroke-width="2.1"/>
<path d="M376.7 454.9 q1.8 2.8 3.6 0" stroke-width="1.9"/>
<text transform="translate(346.63 461.62) scale(0.8112 1)" style="font-size:20.28px;letter-spacing:0.000px">S3</text>
<path d="M560.2 288.7 L560.2 334.4 L571.4 334.4" stroke-width="2.1"/>
<path d="M578.4 334.4 L590 334.4 L590 320.9" stroke-width="2.1"/>
<path d="M574.6 332.5 L574.6 400" stroke-width="2.1"/>
<circle cx="574.6" cy="350.5" r="3.8" class="f"/>
<circle cx="574.6" cy="400" r="3.8" class="f"/>
<path d="M634.8 334.4 L624 334.4" stroke-width="2.1"/>
<path d="M616.3 334.4 L605.4 334.4 L605.4 320.9" stroke-width="2.1"/>
<path d="M620.2 332.5 L620.2 517.8" stroke-width="2.1"/>
<circle cx="620.2" cy="350.5" r="3.8" class="f"/>
<circle cx="620.2" cy="517.8" r="3.8" class="f"/>
<path d="M559.2 338.3 L559.2 347.7" stroke-width="2.1"/>
<path d="M559.2 343.1 L574.6 343.1" stroke-width="2.1"/>
<path d="M562 343.1 L568.8 339.6 L568.8 346.6 Z" class="f"/>
<path d="M577 343.1 L603 343.1" stroke-width="1.9" stroke-dasharray="3.8 1.4"/>
<path d="M604.1 338.9 L604.1 347.3" stroke-width="2.1"/>
<path d="M604.1 343.1 L620.2 343.1" stroke-width="2.1"/>
<path d="M610.7 343.4 q1.8 2.8 3.6 0" stroke-width="1.9"/>
<text transform="translate(523.64 349.62) scale(0.7468 1)" style="font-size:19.99px;letter-spacing:0.000px">TÜV</text>
<text transform="translate(627.62 351.32) scale(0.8181 1)" style="font-size:20.28px;letter-spacing:0.000px">S4</text>
<path d="M9.4 884 A5.4 5.4 0 0 1 20.2 884 Z" class="w"/>
<path d="M8.3 884.3 A6.5 6.5 0 0 1 21.3 884.3" stroke-width="2.2"/>
<rect x="10.9" y="883" width="7.8" height="15.6" class="f" rx="0.6"/>
<path d="M35.5 884 A5.4 5.4 0 0 1 46.3 884 Z" class="w"/>
<path d="M34.4 884.3 A6.5 6.5 0 0 1 47.4 884.3" stroke-width="2.2"/>
<rect x="37" y="883" width="7.8" height="15.6" class="f" rx="0.6"/>
<path d="M61.8 884 A5.4 5.4 0 0 1 72.6 884 Z" class="w"/>
<path d="M60.7 884.3 A6.5 6.5 0 0 1 73.7 884.3" stroke-width="2.2"/>
<rect x="63.3" y="883" width="7.8" height="15.6" class="f" rx="0.6"/>
<path d="M88.3 884 A5.4 5.4 0 0 1 99.1 884 Z" class="w"/>
<path d="M87.2 884.3 A6.5 6.5 0 0 1 100.2 884.3" stroke-width="2.2"/>
<rect x="89.8" y="883" width="7.8" height="15.6" class="f" rx="0.6"/>
<path d="M87.5 513.2 A6.1 6.1 0 0 0 87.5 525.4" stroke-width="2.2"/>
<rect x="86.9" y="515.15" width="14.9" height="8.3" class="f" rx="0.6"/>
<path d="M87.5 539.7 A6.1 6.1 0 0 0 87.5 551.9" stroke-width="2.2"/>
<rect x="86.9" y="541.65" width="14.9" height="8.3" class="f" rx="0.6"/>
<path d="M87.5 565.7 A6.1 6.1 0 0 0 87.5 577.9" stroke-width="2.2"/>
<rect x="86.9" y="567.65" width="14.9" height="8.3" class="f" rx="0.6"/>
<path d="M87.5 591.6 A6.1 6.1 0 0 0 87.5 603.8" stroke-width="2.2"/>
<rect x="86.9" y="593.55" width="14.9" height="8.3" class="f" rx="0.6"/>
<path d="M175.3 378.9 A3.7 3.7 0 0 1 182.7 378.9 Z" class="w"/>
<path d="M174.2 379 A4.8 4.8 0 0 1 183.8 379" stroke-width="2.2"/>
<rect x="175.85" y="377.9" width="6.3" height="12.6" class="f" rx="1.5"/>
<path d="M175.3 458.7 A3.7 3.7 0 0 0 182.7 458.7 Z" class="w"/>
<path d="M174.2 458.6 A4.8 4.8 0 0 0 183.8 458.6" stroke-width="2.2"/>
<rect x="175.85" y="447.1" width="6.3" height="12.6" class="f" rx="1.5"/>
<path d="M175.3 541.3 A3.7 3.7 0 0 1 182.7 541.3 Z" class="w"/>
<path d="M174.2 541.4 A4.8 4.8 0 0 1 183.8 541.4" stroke-width="2.2"/>
<rect x="175.85" y="540.3" width="6.3" height="12.6" class="f" rx="1.5"/>
<path d="M175.3 620.2 A3.7 3.7 0 0 0 182.7 620.2 Z" class="w"/>
<path d="M174.2 620.1 A4.8 4.8 0 0 0 183.8 620.1" stroke-width="2.2"/>
<rect x="175.85" y="608.6" width="6.3" height="12.6" class="f" rx="1.5"/>
<path d="M122.9 652.6 A3.7 3.7 0 0 1 130.3 652.6 Z" class="w"/>
<path d="M121.8 652.7 A4.8 4.8 0 0 1 131.4 652.7" stroke-width="2.2"/>
<rect x="123.45" y="651.6" width="6.3" height="12.6" class="f" rx="1.5"/>
<path d="M175.3 652.6 A3.7 3.7 0 0 1 182.7 652.6 Z" class="w"/>
<path d="M174.2 652.7 A4.8 4.8 0 0 1 183.8 652.7" stroke-width="2.2"/>
<rect x="175.85" y="651.6" width="6.3" height="12.6" class="f" rx="1.5"/>
<path d="M122.9 731.5 A3.7 3.7 0 0 0 130.3 731.5 Z" class="w"/>
<path d="M121.8 731.4 A4.8 4.8 0 0 0 131.4 731.4" stroke-width="2.2"/>
<rect x="123.45" y="719.9" width="6.3" height="12.6" class="f" rx="1.5"/>
<path d="M175.3 731.5 A3.7 3.7 0 0 0 182.7 731.5 Z" class="w"/>
<path d="M174.2 731.4 A4.8 4.8 0 0 0 183.8 731.4" stroke-width="2.2"/>
<rect x="175.85" y="719.9" width="6.3" height="12.6" class="f" rx="1.5"/>
<path d="M464.7 129.8 A3.7 3.7 0 0 1 472.1 129.8 Z" class="w"/>
<path d="M463.6 129.9 A4.8 4.8 0 0 1 473.2 129.9" stroke-width="2.2"/>
<rect x="465.25" y="128.8" width="6.3" height="12.6" class="f" rx="1.5"/>
<path d="M464.7 208.9 A3.7 3.7 0 0 0 472.1 208.9 Z" class="w"/>
<path d="M463.6 208.8 A4.8 4.8 0 0 0 473.2 208.8" stroke-width="2.2"/>
<rect x="465.25" y="197.3" width="6.3" height="12.6" class="f" rx="1.5"/>
<path d="M464.7 415.3 A3.7 3.7 0 0 1 472.1 415.3 Z" class="w"/>
<path d="M463.6 415.4 A4.8 4.8 0 0 1 473.2 415.4" stroke-width="2.2"/>
<rect x="465.25" y="414.3" width="6.3" height="12.6" class="f" rx="1.5"/>
<path d="M464.7 494.7 A3.7 3.7 0 0 0 472.1 494.7 Z" class="w"/>
<path d="M463.6 494.6 A4.8 4.8 0 0 0 473.2 494.6" stroke-width="2.2"/>
<rect x="465.25" y="483.1" width="6.3" height="12.6" class="f" rx="1.5"/>
<path d="M583.5 129.3 A3.7 3.7 0 0 1 590.9 129.3 Z" class="w"/>
<path d="M582.4 129.4 A4.8 4.8 0 0 1 592 129.4" stroke-width="2.2"/>
<rect x="584.05" y="128.3" width="6.3" height="12.6" class="f" rx="1.5"/>
<path d="M583.5 208.1 A3.7 3.7 0 0 0 590.9 208.1 Z" class="w"/>
<path d="M582.4 208 A4.8 4.8 0 0 0 592 208" stroke-width="2.2"/>
<rect x="584.05" y="196.5" width="6.3" height="12.6" class="f" rx="1.5"/>
<path d="M385.9 415.3 A3.7 3.7 0 0 1 393.3 415.3 Z" class="w"/>
<path d="M384.8 415.4 A4.8 4.8 0 0 1 394.4 415.4" stroke-width="2.2"/>
<rect x="386.45" y="414.3" width="6.3" height="12.6" class="f" rx="1.5"/>
<path d="M385.9 494.7 A3.7 3.7 0 0 0 393.3 494.7 Z" class="w"/>
<path d="M384.8 494.6 A4.8 4.8 0 0 0 394.4 494.6" stroke-width="2.2"/>
<rect x="386.45" y="483.1" width="6.3" height="12.6" class="f" rx="1.5"/>
<path d="M556.5 305.3 A3.7 3.7 0 0 1 563.9 305.3 Z" class="w"/>
<path d="M555.4 305.4 A4.8 4.8 0 0 1 565 305.4" stroke-width="2.2"/>
<rect x="557.05" y="304.3" width="6.3" height="12.6" class="f" rx="1.5"/>
<path d="M570.9 383.7 A3.7 3.7 0 0 0 578.3 383.7 Z" class="w"/>
<path d="M569.8 383.6 A4.8 4.8 0 0 0 579.4 383.6" stroke-width="2.2"/>
<rect x="571.45" y="372.1" width="6.3" height="12.6" class="f" rx="1.5"/>
<path d="M631.1 304.8 A3.7 3.7 0 0 1 638.5 304.8 Z" class="w"/>
<path d="M630 304.9 A4.8 4.8 0 0 1 639.6 304.9" stroke-width="2.2"/>
<rect x="631.65" y="303.8" width="6.3" height="12.6" class="f" rx="1.5"/>
<path d="M616.5 383.7 A3.7 3.7 0 0 0 623.9 383.7 Z" class="w"/>
<path d="M615.4 383.6 A4.8 4.8 0 0 0 625 383.6" stroke-width="2.2"/>
<rect x="617.05" y="372.1" width="6.3" height="12.6" class="f" rx="1.5"/>
</svg></body></html>
